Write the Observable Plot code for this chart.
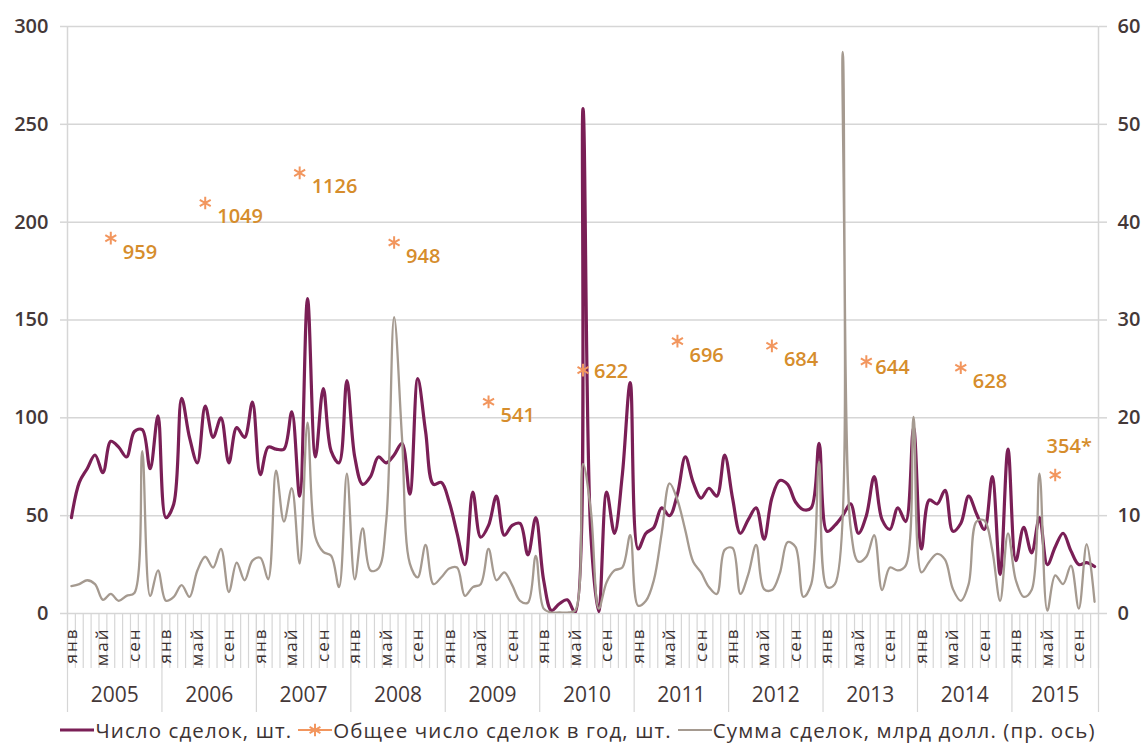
<!DOCTYPE html>
<html>
<head>
<meta charset="utf-8">
<script src="https://cdn.jsdelivr.net/npm/d3@7"></script>
<script src="https://cdn.jsdelivr.net/npm/@observablehq/plot@0.6"></script>
<style>
  html, body { margin: 0; padding: 0; background: #fff; }
  #chart { width: 1148px; }
  .month-lbl text { letter-spacing: 2px; }
  #legend { display: flex; justify-content: center; align-items: center; height: 35px; padding-left: 8px;
    font-family: "Open Sans", sans-serif; font-size: 20.5px; color: #3d3333; letter-spacing: 1.1px; }
  #legend .it { display: flex; align-items: center; margin: 0 3px; white-space: nowrap; }
  #legend svg { margin-right: 1px; }
</style>
</head>
<body>
<div id="chart"></div>
<div id="legend"></div>
<script>
// ---- data ----
const yearLabels = ["2005","2006","2007","2008","2009","2010","2011","2012","2013","2014","2015"];
const monthTickLabels = ["янв","май","сен"];
const monthTickOffsets = [0, 4, 8];
// Число сделок, шт. (monthly, Jan 2005 – Nov 2015)
const deals = [
  49, 67, 74, 81, 72, 88, 85, 80, 93, 94, 74, 101,
  49, 56, 110, 90, 77, 106, 90, 100, 77, 95, 90, 108,
  71, 85, 84, 84, 103, 60, 161, 80, 115, 83, 77, 119,
  80, 66, 70, 80, 77, 81, 87, 61, 120, 93, 66, 67,
  57, 41, 25, 62, 39, 45, 60, 40, 45, 46, 30, 49,
  17, 1.5, 5, 7, 0.5, 258, 40, 1, 62, 41, 71, 118,
  33, 41, 44, 54, 50, 61, 80, 67, 59, 64, 60, 81,
  59, 41, 48, 54, 38, 59, 68, 66, 57, 53, 54, 87,
  42, 45, 50, 56, 41, 50, 70, 48, 43, 54, 47, 95,
  33, 58, 56, 63, 42, 46, 60, 51, 43, 70, 20, 84,
  27, 44, 31, 49, 25, 34, 41, 32, 25, 26, 24
];
// Сумма сделок, млрд долл. (right axis)
const dealSums = [
  2.8, 3.0, 3.4, 3.0, 1.4, 2.0, 1.3, 1.8, 2.1, 16.6, 1.8, 4.4,
  1.3, 1.7, 2.9, 1.7, 4.4, 5.8, 4.7, 6.6, 2.2, 5.2, 3.4, 5.4,
  5.7, 3.5, 14.6, 9.4, 12.8, 5.1, 19.5, 7.8, 6.3, 5.9, 2.7, 14.3,
  3.5, 8.7, 4.4, 4.6, 9.5, 30.3, 18.0, 5.1, 3.7, 7.0, 3.0, 3.7,
  4.6, 4.7, 1.8, 2.7, 3.0, 6.6, 3.4, 4.2, 2.9, 1.3, 1.1, 5.9,
  0.5, 0.1, 0.1, 0.1, 0.3, 15.3, 10.5, 0.5, 3.2, 4.4, 4.7, 8.0,
  0.8, 1.3, 3.4, 8.2, 13.3, 11.6, 8.5, 5.3, 4.2, 2.7, 2.0, 6.5,
  6.7, 2.0, 4.0, 7.0, 2.5, 2.4, 4.1, 7.3, 6.8, 1.7, 3.0, 15.5,
  2.7, 3.0, 57.4, 8.8, 5.3, 5.8, 8.0, 2.4, 4.7, 4.4, 4.9, 20.1,
  4.2, 5.3, 6.1, 5.5, 2.5, 1.3, 3.0, 9.4, 9.5, 6.5, 1.3, 8.2,
  3.4, 1.7, 2.4, 14.3, 0.3, 3.9, 3.0, 4.9, 0.5, 7.1, 1.2
];
// Общее число сделок в год, шт.
const yearTotals = [959, 1049, 1126, 948, 541, 622, 696, 684, 644, 628, 354];
const totalLabels = ["959","1049","1126","948","541","622","696","684","644","628","354*"];
const leftTicks = [0, 50, 100, 150, 200, 250, 300];

// ---- derived ----
const N = deals.length;
const rows = deals.map((d, i) => ({i, deals: d, sum: dealSums[i]}));
const yearRows = yearLabels.map((y, k) => ({
  k, year: y, total: yearTotals[k], label: totalLabels[k],
  start: k * 12, end: Math.min(N, (k + 1) * 12)
}));
const monthTicks = [];
yearRows.forEach(r => monthTickOffsets.forEach((o, j) => {
  if (r.start + o < N) monthTicks.push({pos: r.start + o + 0.5, label: monthTickLabels[j]});
}));

const C_PURPLE = "#7a1f56", C_GRAY = "#a59a90", C_ORANGE = "#f2965e", C_ORTXT = "#d68d2c";
const C_TXT = "#443838", C_GRID = "#d6d6d6";
const FONT = "Open Sans";

const normal = yearRows.filter(r => !["2010","2013","2015"].includes(r.year));
const xPos = r => r.k * 12 + 5.5;

const plot = Plot.plot({
  width: 1148, height: 712,
  marginLeft: 67, marginRight: 50, marginTop: 26, marginBottom: 99,
  style: {fontFamily: FONT, background: "#fff", overflow: "visible"},
  x: {type: "linear", domain: [0, N], axis: null},
  y: {domain: [0, 300], axis: null},
  marks: [
    Plot.gridY({ticks: leftTicks, stroke: C_GRID, strokeOpacity: 1, strokeWidth: 1.5}),
    Plot.ruleX([0, N], {stroke: C_GRID, strokeWidth: 1.5}),
    Plot.axisY({ticks: leftTicks, tickSize: 7, tickPadding: 12, fontSize: 20, fontWeight: 600,
      stroke: C_GRID, fill: C_TXT, label: null, strokeWidth: 1.5}),
    Plot.axisY({anchor: "right", ticks: leftTicks, tickFormat: d => d / 5, tickSize: 8, tickPadding: 11,
      fontSize: 20, fontWeight: 600, stroke: C_GRID, fill: C_TXT, label: null, strokeWidth: 1.5}),
    // month separators
    Plot.axisX({ticks: d3.range(0, N + 1), tickSize: 55, tickFormat: () => "", stroke: C_GRID, label: null, strokeWidth: 1.2}),
    // year separators
    Plot.axisX({ticks: yearRows.map(r => r.start).concat([N]), tickSize: 99, tickFormat: () => "", stroke: C_GRID, label: null, strokeWidth: 1.2}),
    // month names
    Plot.axisX({ticks: monthTicks.map(d => d.pos), tickFormat: (d, i) => monthTicks[i].label,
      tickSize: 0, tickPadding: 14, tickRotate: -90, fontSize: 17, fill: "#3a2f2f", label: null, className: "month-lbl"}),
    // year names
    Plot.text(yearRows, {x: r => (r.start + r.end) / 2, y: 0, dy: 82, text: "year",
      fontSize: 21, fill: C_TXT}),
    // lines
    Plot.line(rows, {x: d => d.i + 0.5, y: "deals", stroke: C_PURPLE, strokeWidth: 3.2,
      curve: "catmull-rom", clip: true}),
    Plot.line(rows, {x: d => d.i + 0.5, y: d => d.sum * 5, stroke: C_GRAY, strokeWidth: 2.3,
      curve: "catmull-rom", clip: true}),
    // yearly totals
    Plot.dot(yearRows, {x: xPos, y: r => r.total / 5, symbol: "asterisk", r: 6,
      stroke: C_ORANGE, strokeWidth: 2}),
    Plot.text(normal, {x: xPos, y: r => r.total / 5, text: "label", dx: 12, dy: 14,
      textAnchor: "start", fill: C_ORTXT, fontSize: 20, fontWeight: 600}),
    Plot.text(yearRows.filter(r => r.year === "2010"), {x: xPos, y: r => r.total / 5, text: "label", dx: 11, dy: 2,
      textAnchor: "start", fill: C_ORTXT, fontSize: 20, fontWeight: 600}),
    Plot.text(yearRows.filter(r => r.year === "2013"), {x: xPos, y: r => r.total / 5, text: "label", dx: 9, dy: 6,
      textAnchor: "start", fill: C_ORTXT, fontSize: 20, fontWeight: 600}),
    Plot.text(yearRows.filter(r => r.year === "2015"), {x: xPos, y: r => r.total / 5, text: "label", dx: 14, dy: -28,
      textAnchor: "middle", fill: C_ORTXT, fontSize: 20, fontWeight: 600})
  ]
});
document.getElementById("chart").appendChild(plot);

// legend
const legendItems = [
  {label: "Число сделок, шт.", color: C_PURPLE, w: 3, marker: false},
  {label: "Общее число сделок в год, шт.", color: C_ORANGE, w: 2, marker: true},
  {label: "Сумма сделок, млрд долл. (пр. ось)", color: C_GRAY, w: 2.2, marker: false}
];
const lg = d3.select("#legend");
legendItems.forEach(it => {
  const d = lg.append("div").attr("class", "it");
  const s = d.append("svg").attr("width", 34).attr("height", 16);
  s.append("line").attr("x1", 0).attr("x2", 34).attr("y1", 8).attr("y2", 8)
    .attr("stroke", it.color).attr("stroke-width", it.w);
  if (it.marker) {
    s.append("path").attr("transform", "translate(17,8)")
      .attr("d", d3.symbol(d3.symbolAsterisk, 110)())
      .attr("stroke", it.color).attr("stroke-width", 2).attr("fill", "none");
  }
  d.append("span").text(it.label);
});
</script>
</body>
</html>
